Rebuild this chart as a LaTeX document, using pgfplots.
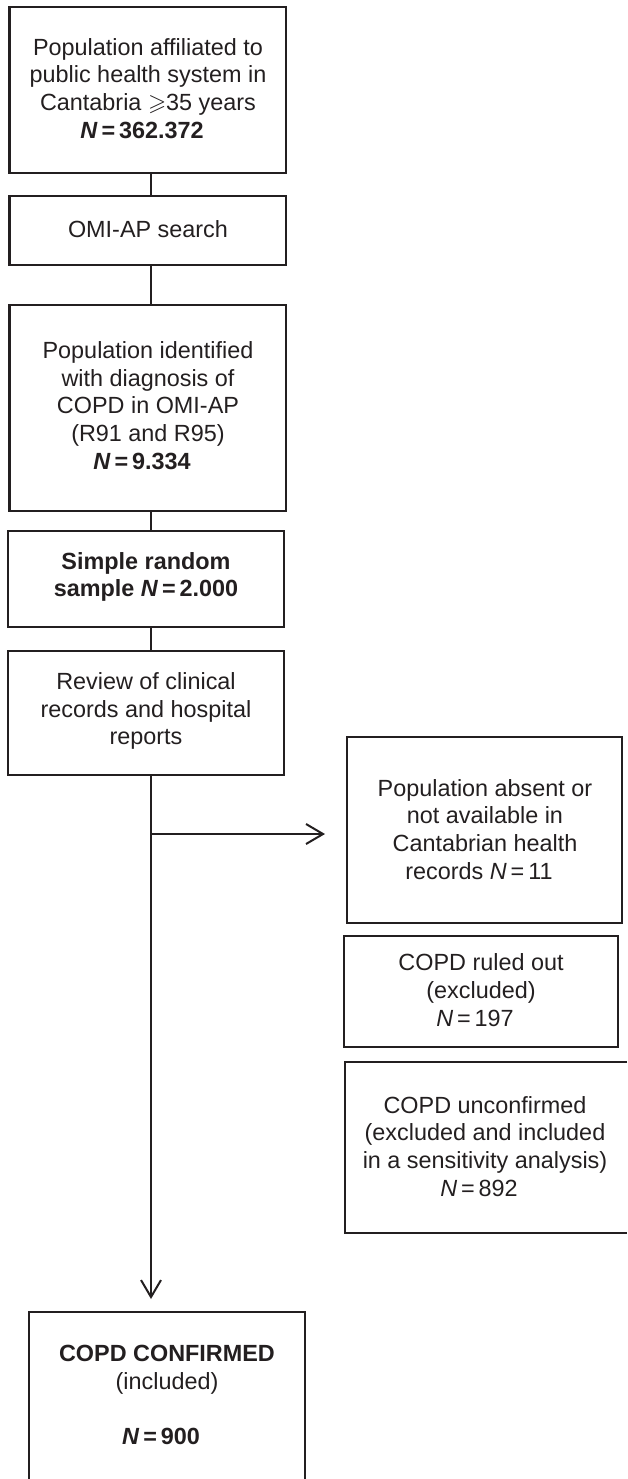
\documentclass[border=0pt]{standalone}
\usepackage{fontspec}
\setmainfont{Liberation Sans}
\usepackage{amssymb}
\usepackage{pgfplots}
\pgfplotsset{compat=1.18}
\usetikzlibrary{arrows.meta}
\definecolor{ink}{RGB}{35,31,32}
\begin{document}
\begin{tikzpicture}
\begin{axis}[
  scale only axis, width=313.5pt, height=739.5pt,
  xmin=0, xmax=627, ymin=0, ymax=1479, y dir=reverse,
  axis lines=none, ticks=none,
  box/.style={draw=ink, line width=1.1pt, solid, mark=none, line join=miter},
  arr/.style={draw=ink, line width=1.1pt, solid, mark=none, -{Straight Barb[length=8.5pt,width=10pt,line width=1pt]}},
  nodes={font=\fontsize{11.7}{13.9}\selectfont, text=ink, align=center, inner sep=0pt},
]
% boxes
\addplot[box] coordinates {(9.5,7) (286,7) (286,173) (9.5,173)} --cycle;
\addplot[box] coordinates {(9.5,196) (286,196) (286,265) (9.5,265)} --cycle;
\addplot[box] coordinates {(9.5,305) (286,305) (286,511) (9.5,511)} --cycle;
\addplot[box] coordinates {(8,531) (284,531) (284,627) (8,627)} --cycle;
\addplot[box] coordinates {(8,651) (284,651) (284,775) (8,775)} --cycle;
\addplot[box] coordinates {(347,737) (622,737) (622,923) (347,923)} --cycle;
\addplot[box] coordinates {(344,936) (618,936) (618,1047) (344,1047)} --cycle;
\addplot[box] coordinates {(627,1062) (345,1062) (345,1233) (627,1233)};
\addplot[box] coordinates {(29,1479) (29,1312) (305,1312) (305,1479)};
% connectors
\addplot[box] coordinates {(151,173) (151,196)};
\addplot[box] coordinates {(151,265) (151,305)};
\addplot[box] coordinates {(151,511) (151,531)};
\addplot[box] coordinates {(151,627) (151,651)};
\addplot[arr] coordinates {(151,775) (151,1299)};
\addplot[arr] coordinates {(151,834) (325,834)};
% texts
\node at (axis cs:148,88.5) {Population affiliated to\\public health system in\\Cantabria $\geqslant$35 years\\\textbf{\textit{N}\,=\,362.372}\hspace*{6pt}};
\node at (axis cs:148,229) {OMI-AP search};
\node at (axis cs:148,405.5) {Population identified\\with diagnosis of\\COPD in OMI-AP\\(R91 and R95)\\\textbf{\textit{N}\,=\,9.334}\hspace*{6pt}};
\node at (axis cs:146,577) {\textbf{Simple random}\\\textbf{sample \textit{N}\,=\,2.000}};
\node at (axis cs:146,711) {Review of clinical\\records and hospital\\reports};
\node at (axis cs:485,829.5) {Population absent or\\not available in\\Cantabrian health\\records \textit{N}\,=\,11\hspace*{6pt}};
\node at (axis cs:481,990) {COPD ruled out\\(excluded)\\\textit{N}\,=\,197\hspace*{6pt}};
\node at (axis cs:485,1146.5) {COPD unconfirmed\\(excluded and included\\in a sensitivity analysis)\\\textit{N}\,=\,892\hspace*{6pt}};
\node at (axis cs:167,1395) {\textbf{COPD CONFIRMED}\\(included)\\[13.9pt]\textbf{\textit{N}\,=\,900}\hspace*{6pt}};
\end{axis}
\pgfresetboundingbox
\path (current axis.south west) rectangle (current axis.north east);
\end{tikzpicture}
\end{document}
